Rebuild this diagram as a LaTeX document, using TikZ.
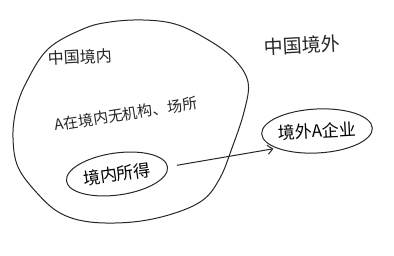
\documentclass[tikz,border=0pt]{standalone}
\usepackage{fontspec}
\newfontfamily\cjk{Noto Sans CJK SC}
\usetikzlibrary{shapes.geometric,arrows.meta}
\begin{document}
\begin{tikzpicture}[x=1pt,y=-1pt,
  ink/.style={line width=1pt, draw=black!85},
  word/.style={text=black!85, inner sep=0pt},
  oval/.style={ink, ellipse, inner sep=0pt}]
\useasboundingbox (0,0) rectangle (394,256);
% the domestic region: a loose hand-drawn loop
\draw[ink] plot[smooth cycle, tension=0.6] coordinates {
  (83,29) (110,22) (143,20) (175,24) (205,38) (233,58) (248,82)
  (244,112) (232,148) (220,178) (203,200) (172,214) (133,222)
  (90,222) (60,213) (37,193) (18,167) (13,138) (16,110) (26,83) (48,49)};
\node[word, font={\cjk\fontsize{16}{18}\selectfont}, rotate=3] (inside) at (80,57) {中国境内};
\node[word, font={\cjk\fontsize{19}{21}\selectfont}, rotate=3] (outside) at (302,45) {中国境外};
\node[word, font={\cjk\fontsize{15}{17}\selectfont}, rotate=9] (nobase) at (126,114) {A在境内无机构、场所};
\node[oval, minimum width=102pt, minimum height=42pt, rotate=8,
      font={\cjk\fontsize{17}{19}\selectfont}] (income) at (117,174) {境内所得};
\node[oval, minimum width=110pt, minimum height=44pt, rotate=3,
      font={\cjk\fontsize{17}{19}\selectfont}] (firm) at (317,131) {境外A企业};
\draw[ink, -{Straight Barb[length=5pt,width=9pt]}, shorten <=9pt, shorten >=3pt]
  (income.east) -- (firm.200);
\end{tikzpicture}
\end{document}
